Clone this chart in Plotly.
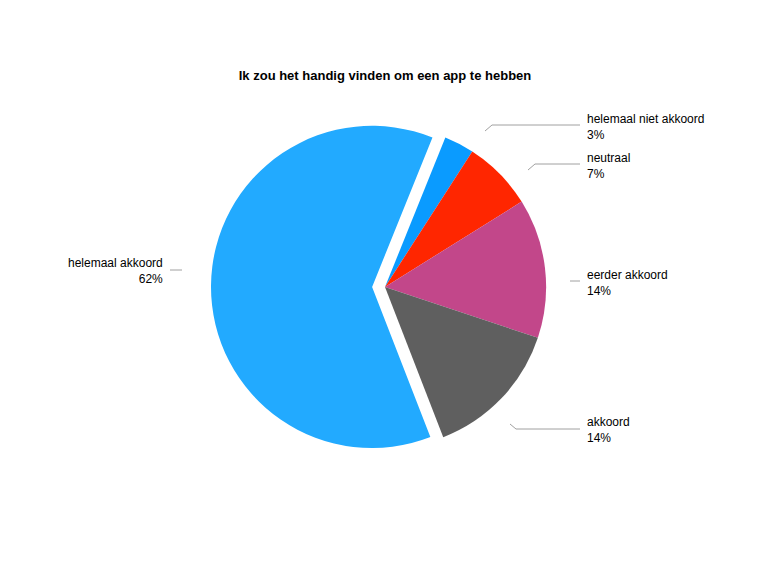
import plotly.graph_objects as go

labels = ["helemaal niet akkoord", "neutraal", "eerder akkoord", "akkoord", "helemaal akkoord"]
values = [3, 7, 14, 14, 62]
colors = ["#0a9bff", "#ff2600", "#c2478a", "#5f5f5f", "#22aaff"]
pulls = [0, 0, 0, 0, 0.08]

W, H = 768, 576
OFF = 8  # page body margin


def px(x):
    return (x - OFF) / W


def py(y):
    return 1 - (y - OFF) / H


fig = go.Figure(go.Pie(
    labels=labels, values=values, sort=False, direction="clockwise", rotation=22,
    marker=dict(colors=colors, line=dict(width=0)), pull=pulls,
    textinfo="none", showlegend=False,
    domain=dict(x=[px(211), px(559)], y=[py(461), py(113)]),
))

# label positions (pixels) and leader lines
label_pos = [(585, 127, "left"), (585, 166, "left"), (585, 283, "left"), (585, 430, "left"), (165, 271, "right")]
leaders = [
    [(485, 131), (492, 125), (580, 125)],
    [(528, 170), (535, 164), (580, 164)],
    [(570, 281), (580, 281)],
    [(510, 424), (516, 429), (580, 429)],
    [(170, 270), (182, 270)],
]

for (x, y, al), lab, v in zip(label_pos, labels, values):
    fig.add_annotation(x=px(x), y=py(y), xref="paper", yref="paper", showarrow=False,
                       text=f"{lab}<br>{v}%", xanchor=al, yanchor="middle", align=al,
                       font=dict(size=12, color="black"))

for pts in leaders:
    path = "M " + " L ".join(f"{px(a)},{py(b)}" for a, b in pts)
    fig.add_shape(type="path", path=path, xref="paper", yref="paper",
                  line=dict(color="#888888", width=0.8))

fig.update_layout(
    width=W, height=H, margin=dict(l=0, r=0, t=0, b=0),
    paper_bgcolor="white", plot_bgcolor="white",
    font=dict(family="Liberation Sans, Arial, sans-serif"),
    title=dict(text="<b>Ik zou het handig vinden om een app te hebben</b>", x=px(385), y=py(75),
               xanchor="center", yanchor="middle", font=dict(size=13, color="black")),
)

fig.write_html("out.html")
